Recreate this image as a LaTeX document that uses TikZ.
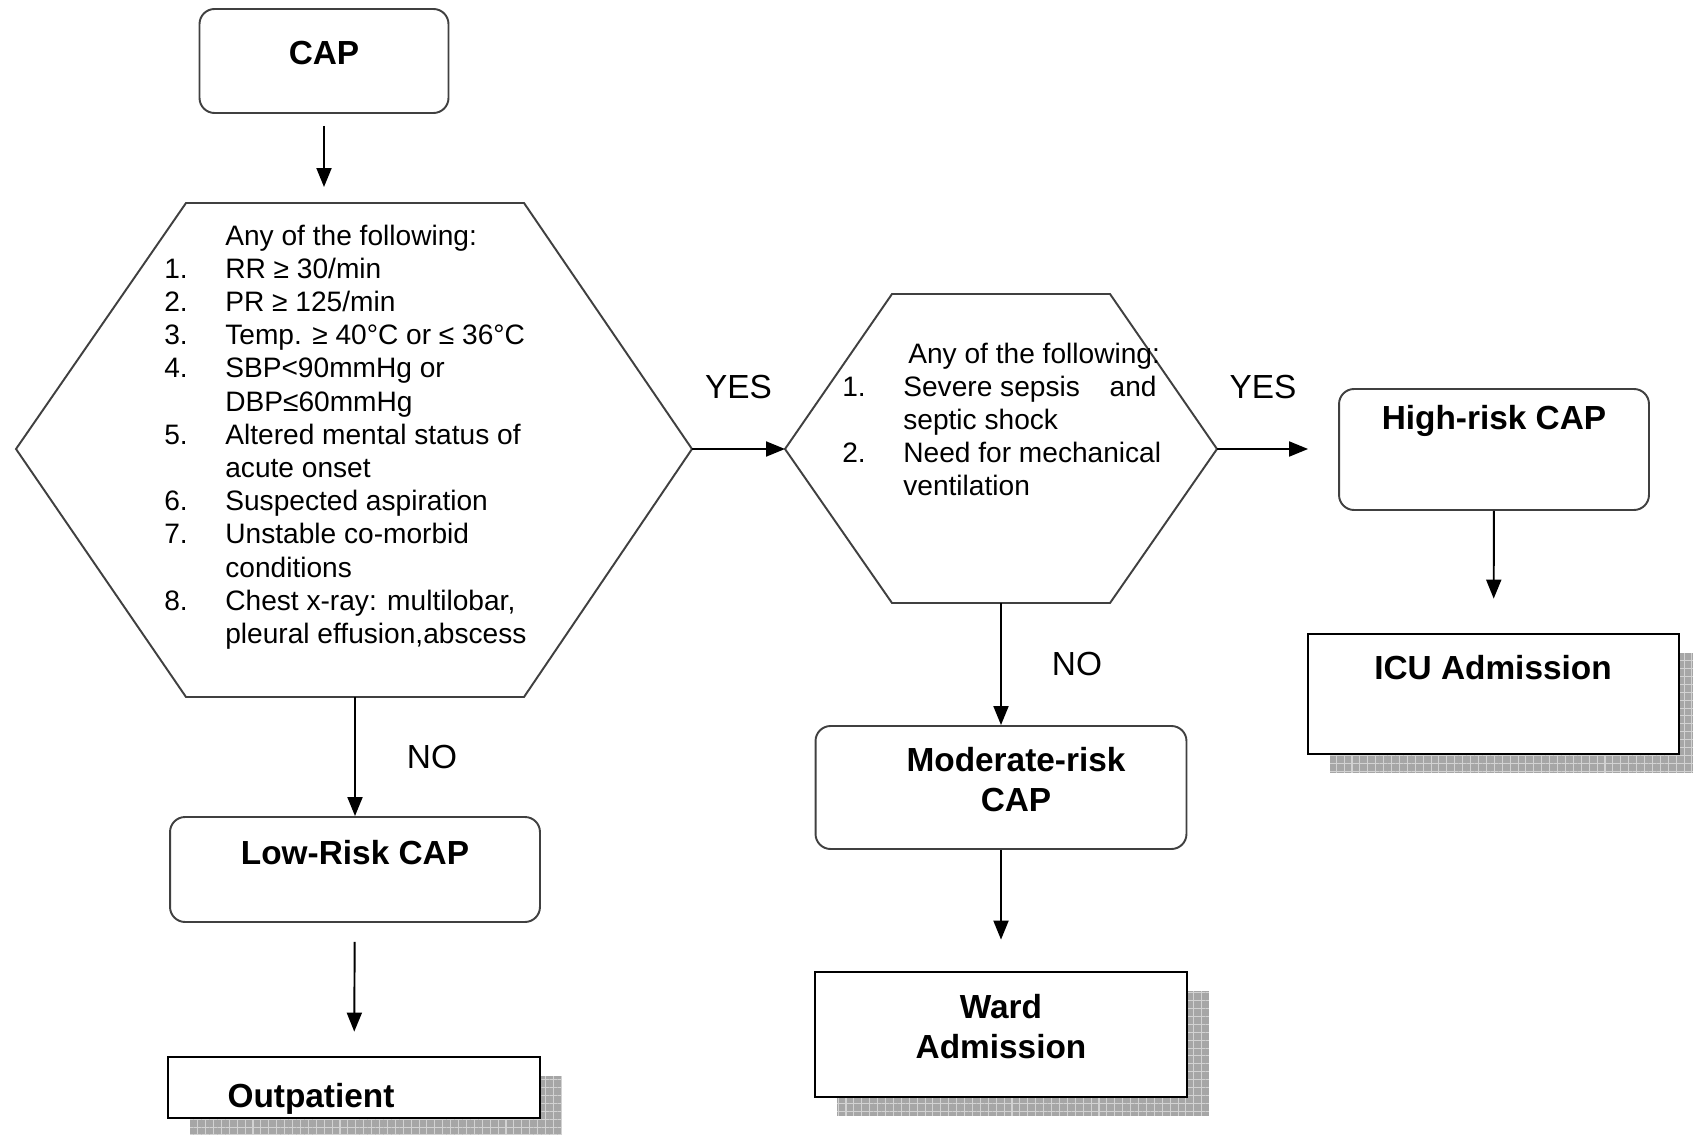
\documentclass[tikz,border=0pt]{standalone}
\usepackage{fontspec}
\setmainfont{Liberation Sans}
\usepackage{tikz}
\usetikzlibrary{positioning, arrows.meta, shadows, patterns.meta}

\newcommand{\itm}[1]{\makebox[1.22cm][l]{#1}}

\begin{document}
\begin{tikzpicture}[x=0.02cm, y=-0.02cm, >={Triangle[length=0.38cm,width=0.3cm]},
        line/.style = {draw=black!75, line width=1.1pt},
        rbox/.style = {line, rectangle, rounded corners=0.3cm},
        sbox/.style = {draw, rectangle, line width=1.6pt, fill=white,
            drop shadow={shadow xshift=0.44cm, shadow yshift=-0.38cm, fill=gray!70, opacity=1,
                postaction={pattern={Hatch[angle=0, distance=4.5pt, line width=0.6pt]}, pattern color=gray!35}}},
        lbl/.style = {font=\fontsize{19}{23}\selectfont\bfseries, align=center, inner sep=0pt},
        yn/.style = {font=\fontsize{19}{23}\selectfont, inner sep=0pt},
        crit/.style = {font=\fontsize{16}{18.9}\selectfont, inner sep=0pt, anchor=base west},
        arr/.style = {->, line width=1.1pt},
        ]
        \useasboundingbox (0,0) rectangle (1693,1135);

        % boxes
        \node [rbox, minimum width=4.98cm, minimum height=2.08cm] (cap) at (324,61) {};
        \node [rbox, minimum width=7.4cm, minimum height=2.1cm] (low) at (355,869.5) {};
        \node [rbox, minimum width=7.42cm, minimum height=2.46cm] (mod) at (1001,787.5) {};
        \node [rbox, minimum width=6.2cm, minimum height=2.42cm] (high) at (1494,449.5) {};
        \node [sbox, minimum width=7.42cm, minimum height=2.4cm] (icu) at (1493.5,694) {};
        \node [sbox, minimum width=7.44cm, minimum height=2.5cm] (ward) at (1001,1034.5) {};
        \node [sbox, minimum width=7.44cm, minimum height=1.22cm] (outp) at (354,1087.5) {};

        \node [lbl] (capT) at (324,53) {CAP};
        \node [lbl] (lowT) at (355,853) {Low-Risk CAP};
        \node [lbl] (modT) at (1016,779.5) {Moderate-risk\\CAP};
        \node [lbl] (highT) at (1494,421) {High-risk CAP};
        \node [lbl] (icuT) at (1493,668) {ICU Admission};
        \node [lbl] (wardT) at (1001,1026.5) {Ward\\Admission};
        \node [lbl] (outpT) at (311,1099) {Outpatient};

        % decision hexagons
        \draw [line] (186,203) -- (524,203) -- (692,449) coordinate (hAe)
            -- (524,697) -- (186,697) -- (16,449) -- cycle;
        \coordinate (hAn) at (354,203);
        \coordinate (hAs) at (355,697);
        \draw [line] (892,294) -- (1110,294) -- (1217,449) coordinate (hBe)
            -- (1110,603) -- (892,603) -- (785,449) coordinate (hBw) -- cycle;
        \coordinate (hBs) at (1001,603);

        \node [crit] (critA) at (164,245) {\begin{tabular}[t]{@{}l@{}}
            \itm{}Any of the following:\\
            \itm{1.}RR ≥ 30/min\\
            \itm{2.}PR ≥ 125/min\\
            \itm{3.}Temp. ≥ 40°C or ≤ 36°C\\
            \itm{4.}SBP<90mmHg or\\
            \itm{}DBP≤60mmHg\\
            \itm{5.}Altered mental status of\\
            \itm{}acute onset\\
            \itm{6.}Suspected aspiration\\
            \itm{7.}Unstable co-morbid\\
            \itm{}conditions\\
            \itm{8.}Chest x-ray: multilobar,\\
            \itm{}pleural effusion,abscess
        \end{tabular}};
        \node [crit] (critB) at (842,363) {\begin{tabular}[t]{@{}l@{}}
            \itm{}\hspace{0.1cm}Any of the following:\\
            \itm{1.}Severe sepsis\hspace{0.44cm} and\\
            \itm{}septic shock\\
            \itm{2.}Need for mechanical\\
            \itm{}ventilation
        \end{tabular}};

        % connectors
        \draw [arr, shorten <=0.24cm, shorten >=0.32cm] (cap.south) -- (cap.south |- hAn);
        \draw [arr] (hAe) -- node [yn, yshift=1.24cm] (yesA) {YES} (hBw);
        \draw [arr, shorten >=0.6cm] (hBe) -- node [yn, pos=0.38, yshift=1.24cm] (yesB) {YES} (hBe -| high.west);
        \draw [arr, shorten >=0.68cm] (high) -- (icu);
        \draw [arr] (hAs) -- node [yn, xshift=1.54cm] (noA) {NO} (hAs |- low.north);
        \draw [arr, shorten <=0.38cm, shorten >=0.48cm] (low) -- (outp);
        \draw [arr] (hBs) -- node [yn, xshift=1.52cm] (noB) {NO} (hBs |- mod.north);
        \draw [arr, shorten >=0.62cm] (mod) -- (ward);
    \end{tikzpicture}
\end{document}
